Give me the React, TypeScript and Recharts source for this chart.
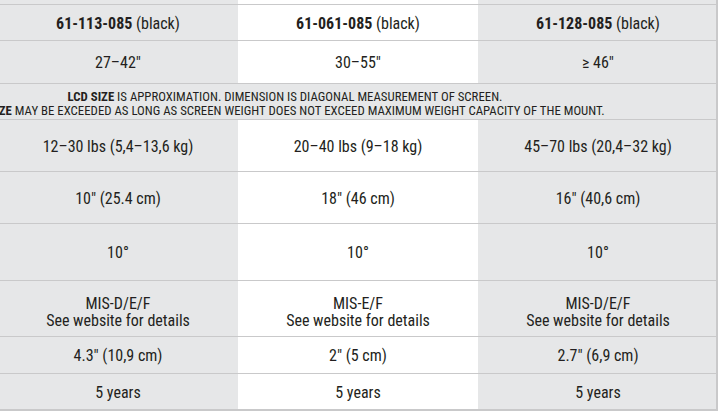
import { BarChart, Bar, XAxis, YAxis } from "recharts";

// cell texts, one entry per mount
const models = ["61-113-085", "61-061-085", "61-128-085"];
const finish = "(black)";
const screenSizes = ["27–42″", "30–55″", "≥ 46″"];
const noteLead = "LCD SIZE";
const noteLine1 = " IS APPROXIMATION. DIMENSION IS DIAGONAL MEASUREMENT OF SCREEN.";
const noteLine2 = " MAY BE EXCEEDED AS LONG AS SCREEN WEIGHT DOES NOT EXCEED MAXIMUM WEIGHT CAPACITY OF THE MOUNT.";
const weights = ["12–30 lbs (5,4–13,6 kg)", "20–40 lbs (9–18 kg)", "45–70 lbs (20,4–32 kg)"];
const extensions = ["10″ (25.4 cm)", "18″ (46 cm)", "16″ (40,6 cm)"];
const tilts = ["10°", "10°", "10°"];
const patterns = ["MIS-D/E/F", "MIS-E/F", "MIS-D/E/F"];
const patternNote = "See website for details";
const depths = ["4.3″ (10,9 cm)", "2″ (5 cm)", "2.7″ (6,9 cm)"];
const warranties = ["5 years", "5 years", "5 years"];

// table layout (row heights in px)
const ROW_HEIGHTS = [5, 36, 43, 36, 52, 52, 57, 56, 37, 36];
const ROW_KINDS = ["top", "header", "cell", "note", "cell", "cell", "cell", "pattern", "cell", "cell"];
const ROW_CELLS: (string[] | null)[] = [null, models, screenSizes, null, weights, extensions, tilts, patterns, depths, warranties];

const W = 720;
const H = 413;
const GRAY = "#e6e7e8";
const LINE = "#c9c9ca";
const INK = "#231f20";
const FONT = "'Liberation Sans Narrow', 'Roboto Condensed', 'Liberation Sans', Arial, sans-serif";
const NOTE_CENTER = 287;

const tableData = models.map((_, c) => {
  const entry: Record<string, number> = { col: c };
  ROW_HEIGHTS.forEach((h, r) => {
    entry[`r${r}`] = h;
  });
  return entry;
});

function makeCell(r: number) {
  return (props: any) => {
    const { x, y, width, height, index } = props;
    const top = Math.min(y, y + height);
    const h = Math.abs(height);
    const kind = ROW_KINDS[r];
    const fill = kind === "note" ? GRAY : index === 1 ? "#ffffff" : GRAY;
    const cx = x + width / 2;
    const cy = top + h / 2;
    const cells = ROW_CELLS[r];
    const textProps = {
      textAnchor: "middle" as const,
      dominantBaseline: "central" as const,
      fontFamily: FONT,
      fontSize: 16,
      fill: INK,
    };
    return (
      <g>
        <rect x={x} y={top} width={width + 0.5} height={h} fill={fill} />
        <line x1={x} x2={x + width + 0.5} y1={top + h} y2={top + h} stroke={LINE} strokeWidth={2} />
        {index === 2 && (
          <line x1={x + width - 1} x2={x + width - 1} y1={top} y2={top + h + 1} stroke={LINE} strokeWidth={2} />
        )}
        {kind === "header" && (
          <text x={cx} y={cy} {...textProps}>
            <tspan fontWeight="bold">{models[index]}</tspan>
            <tspan> {finish}</tspan>
          </text>
        )}
        {kind === "cell" && cells && (
          <text x={cx} y={cy} {...textProps}>
            {cells[index]}
          </text>
        )}
        {kind === "pattern" && cells && (
          <>
            <text x={cx} y={cy - 6} {...textProps}>
              {cells[index]}
            </text>
            <text x={cx} y={cy + 11} {...textProps}>
              {patternNote}
            </text>
          </>
        )}
        {kind === "note" && index === 2 && (
          <>
            <text x={NOTE_CENTER} y={cy - 6.5} {...textProps} fontSize={12.8}>
              <tspan fontWeight="bold">{noteLead}</tspan>
              <tspan>{noteLine1}</tspan>
            </text>
            <text x={NOTE_CENTER} y={cy + 7.5} {...textProps} fontSize={12.8}>
              <tspan fontWeight="bold">{noteLead}</tspan>
              <tspan>{noteLine2}</tspan>
            </text>
          </>
        )}
      </g>
    );
  };
}

export default function App() {
  return (
    <div style={{ position: "absolute", left: -2, top: 0, width: W, height: H, background: "#ffffff" }}>
      <BarChart
        width={W}
        height={H}
        data={tableData}
        margin={{ top: 0, right: 0, bottom: 0, left: 0 }}
        barCategoryGap={0}
        barGap={0}
      >
        <XAxis dataKey="col" type="category" hide />
        <YAxis type="number" domain={[0, H]} reversed hide allowDataOverflow />
        {ROW_HEIGHTS.map((_, r) => (
          <Bar
            key={r}
            dataKey={`r${r}`}
            stackId="table"
            isAnimationActive={false}
            shape={makeCell(r)}
          />
        ))}
      </BarChart>
    </div>
  );
}
